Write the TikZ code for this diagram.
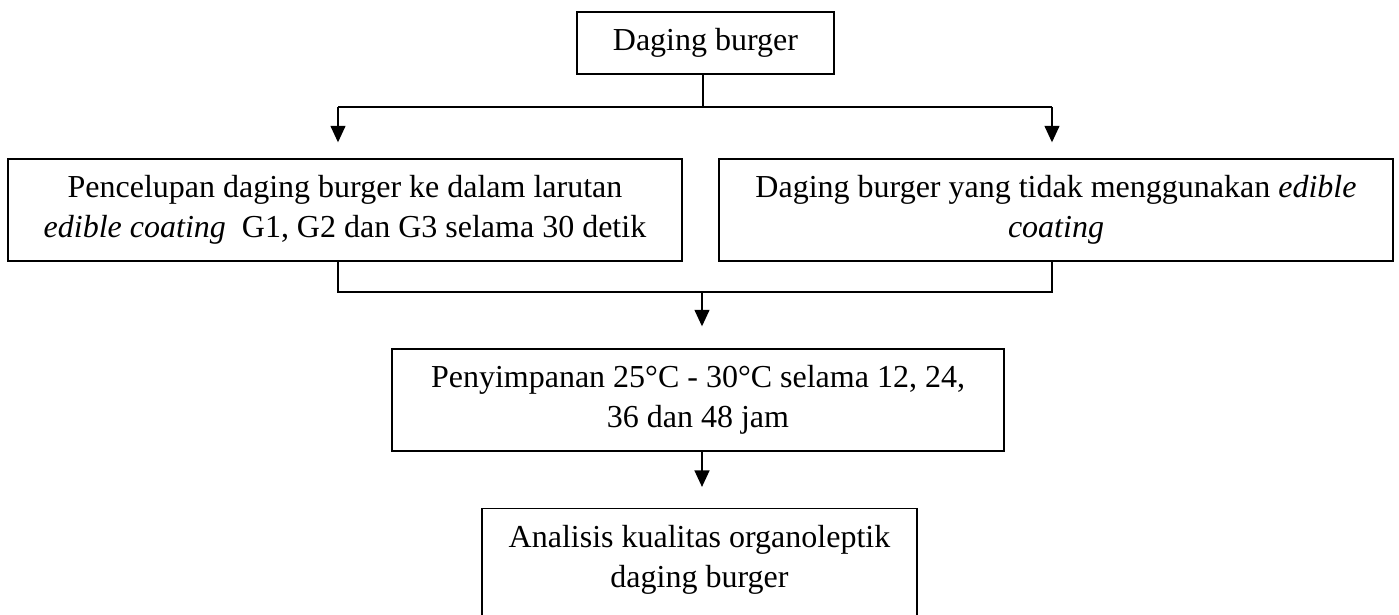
\documentclass[tikz,border=0pt]{standalone}
\usepackage{fontspec}
\setmainfont{Liberation Serif}
\usepackage{tikz}
\usetikzlibrary{arrows.meta,calc,positioning}

\begin{document}
\begin{tikzpicture}[
    x=0.375pt,y=-0.375pt,
    block/.style={rectangle,draw,line width=0.5pt,align=center,
      font=\fontsize{12}{15}\selectfont},
    connector/.style={-{Triangle[width=5.6pt,length=6.2pt]},line width=0.6pt},
    line/.style={line width=0.6pt}]
    % Page is the size of the figure, the last box runs off the bottom
    \clip (0,0) rectangle (1399,615);

    % Boxes
    \node (daging) [block,minimum width=96.4pt,minimum height=23.25pt] at (705.5,43) {Daging burger};
    \node (celup) [block,minimum width=252.75pt,minimum height=38.25pt] at (345,210)
      {Pencelupan daging burger ke dalam larutan\\
       \textit{edible coating}\ \ G1, G2 dan G3 selama 30 detik};
    \node (tanpa) [block,minimum width=252.75pt,minimum height=38.25pt] at (1056,210)
      {Daging burger yang tidak menggunakan \textit{edible}\\ \textit{coating}};
    \node (simpan) [block,minimum width=229.5pt,minimum height=38.25pt] at (698,400)
      {Penyimpanan 25°C - 30°C selama 12, 24,\\ 36 dan 48 jam};
    \node (analisis) [block,anchor=north,minimum width=163.1pt,inner ysep=6.4pt,text depth=40pt] at (699.5,508)
      {Analisis kualitas organoleptik\\ daging burger};

    % Split below the first box
    \coordinate (top_split) at (703,107);
    \coordinate (left_drop) at (338,107);
    \coordinate (right_drop) at (1052,107);
    \draw[line] (top_split |- daging.south) to (top_split);
    \draw[line] (left_drop) to (right_drop);
    \draw[connector,shorten >=6pt] (left_drop) to (left_drop |- celup.north);
    \draw[connector,shorten >=6pt] (right_drop) to (right_drop |- tanpa.north);

    % Join of both branches
    \coordinate (join) at (702,292);
    \draw[line] (celup.south -| left_drop) |- (join) -| (tanpa.south -| right_drop);
    \draw[connector,shorten >=8.25pt] (join) to (join |- simpan.north);
    \draw[connector,shorten >=7.9pt] (simpan.south -| join) to (analisis.north -| join);

  \end{tikzpicture}
\end{document}
